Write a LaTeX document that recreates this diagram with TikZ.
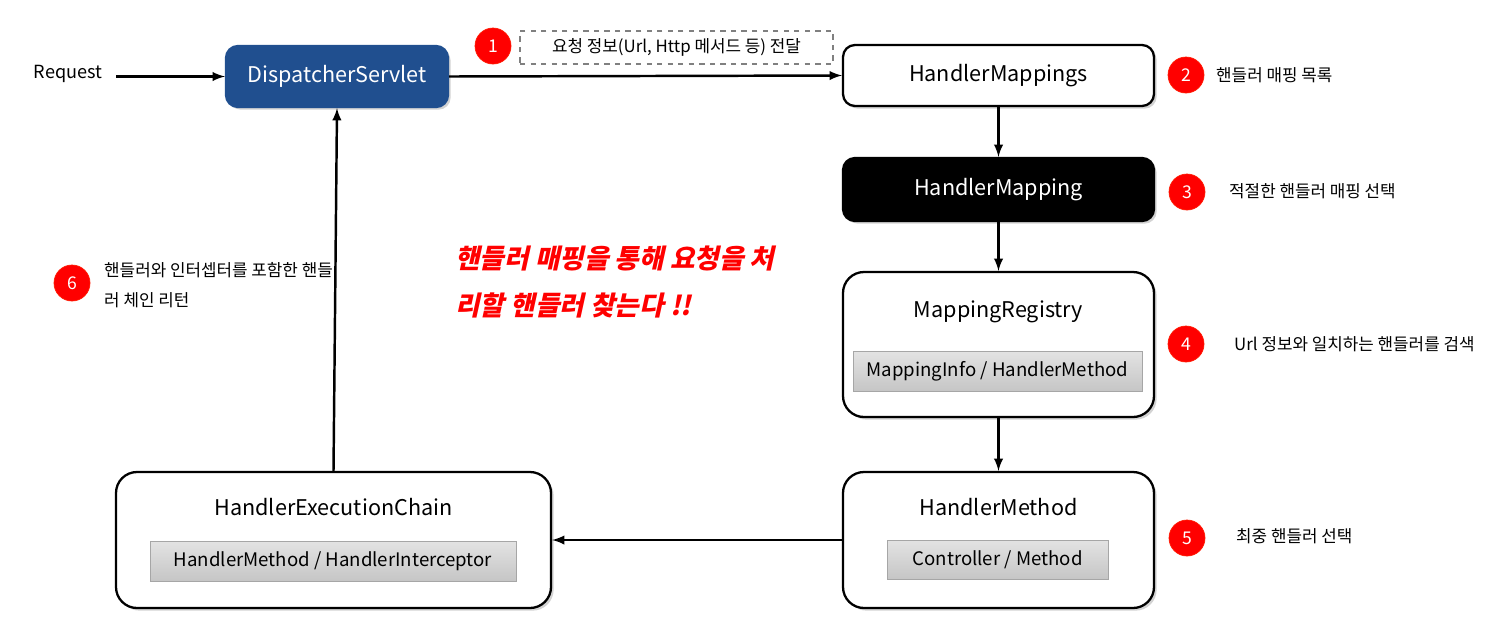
\documentclass[tikz,border=0pt]{standalone}
\usepackage{fontspec}
\setmainfont{Noto Sans CJK KR}
\newfontfamily\redkr[FakeSlant=0.22]{Noto Sans CJK KR}
\usepackage{tikz}
\usetikzlibrary{arrows,shadows,positioning}
\definecolor{dsblue}{RGB}{32,79,143}
\definecolor{stepred}{RGB}{255,0,0}

\begin{document}
\begin{tikzpicture}[
        >=latex,
        flow/.style={->, line width=1.4pt},
        box/.style={draw=black, line width=1.3pt, fill=white, rounded corners=0.24cm, minimum width=6.22cm, font=\fontsize{12.3}{14}\selectfont, drop shadow={shadow xshift=1.5pt, shadow yshift=-1.5pt, opacity=0.35}},
        bigbox/.style={box, rounded corners=0.42cm},
        title/.style={font=\fontsize{12.3}{14}\selectfont},
        inner/.style={draw=gray!70, top color=gray!22, bottom color=gray!45, minimum height=0.8cm, font=\fontsize{10.6}{12}\selectfont},
        num/.style={circle, fill=stepred, draw=stepred!80!orange, text=white, minimum size=0.72cm, inner sep=0pt, font=\fontsize{10}{12}\selectfont},
        note/.style={anchor=west, font=\fontsize{9.6}{17}\selectfont, align=left}
    ]
    \useasboundingbox (0,0) rectangle (29.76,-12.46);

    \node[box, fill=dsblue, draw=dsblue, text=white, minimum width=4.44cm, minimum height=1.22cm] (ds) at (6.74,-1.53) {DispatcherServlet};
    \node[font=\fontsize{10.3}{12}\selectfont] (req) at (1.36,-1.48) {Request};
    \coordinate (reqend) at (2.32,-1.53);

    \node[box, minimum height=1.22cm] (hms) at (19.97,-1.51) {HandlerMappings};
    \node[box, fill=black, text=white, minimum height=1.26cm] (hm) at (19.97,-3.79) {HandlerMapping};
    \node[bigbox, minimum height=2.9cm] (registry) at (19.97,-6.89) {};
    \node[title] (registrytitle) at (19.97,-6.24) {MappingRegistry};
    \node[inner, minimum width=5.78cm] (registryinfo) at (19.95,-7.42) {MappingInfo / HandlerMethod};

    \node[bigbox, minimum height=2.72cm] (hmethod) at (19.97,-10.8) {};
    \node[title] (hmethodtitle) at (19.97,-10.14) {HandlerMethod};
    \node[inner, minimum width=4.42cm, minimum height=0.78cm] (hmethodinfo) at (19.95,-11.19) {Controller / Method};

    \node[bigbox, minimum width=8.7cm, minimum height=2.72cm] (chain) at (6.67,-10.8) {};
    \node[title] (chaintitle) at (6.67,-10.14) {HandlerExecutionChain};
    \node[inner, minimum width=7.32cm] (chaininfo) at (6.66,-11.22) {HandlerMethod / HandlerInterceptor};

    \node[draw=gray, dashed, line width=0.6pt, minimum width=6.26cm, minimum height=0.66cm, font=\fontsize{9.6}{12}\selectfont] (reqinfo) at (13.53,-0.95) {요청 정보(Url, Http 메서드 등) 전달};

    \node[num] (n1) at (9.86,-0.92) {1};
    \node[num] (n2) at (23.72,-1.5) {2};
    \node[num] (n3) at (23.74,-3.84) {3};
    \node[num] (n4) at (23.72,-6.88) {4};
    \node[num] (n5) at (23.74,-10.76) {5};
    \node[num] (n6) at (1.44,-5.66) {6};

    \node[note] (t2) at (24.2,-1.5) {핸들러 매핑 목록};
    \node[note] (t3) at (24.46,-3.82) {적절한 핸들러 매핑 선택};
    \node[note] (t4) at (24.56,-6.88) {Url 정보와 일치하는 핸들러를 검색};
    \node[note] (t5) at (24.6,-10.72) {최중 핸들러 선택};
    \node[note] (t6) at (1.96,-5.7) {핸들러와 인터셉터를 포함한 핸들\\러 체인 리턴};

    \node[anchor=west, align=left, text=stepred, font=\redkr\bfseries\fontsize{15.2}{27}\selectfont] (slogan) at (8.98,-5.64) {핸들러 매핑을 통해 요청을 처\\리할 핸들러 찾는다 !!};

    \draw[flow] (reqend) -- (ds.west);
    \draw[flow] (ds.east) -- (hms.west);
    \draw[flow] (hms.south) -- (hm.north);
    \draw[flow] (hm.south) -- (registry.north);
    \draw[flow] (registry.south) -- (hmethod.north);
    \draw[flow] (hmethod.west) -- (chain.east);
    \draw[flow] (chain.north) -- (ds.south);
\end{tikzpicture}
\end{document}
